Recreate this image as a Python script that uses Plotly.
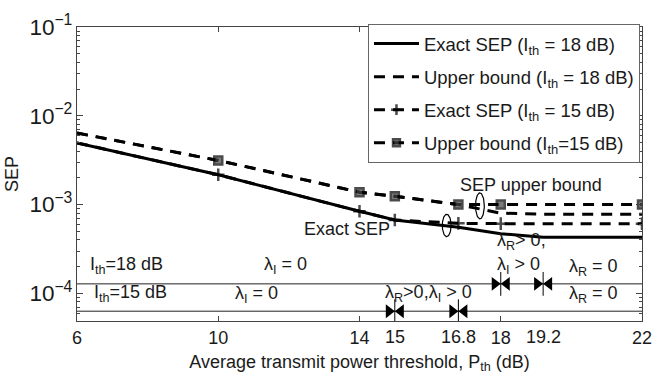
import numpy as np
import plotly.graph_objects as go

# ---------------- data ----------------
x_ex18 = [6, 10, 14, 15, 16.8, 18, 19.2, 22]
sep_ex18 = [4.95e-3, 2.17e-3, 8.4e-4, 6.7e-4, 5.56e-4, 4.7e-4, 4.3e-4, 4.3e-4]

x_ub18 = [6, 10, 14, 15, 16.8, 18, 19.2, 22]
sep_ub18 = [6.4e-3, 3.14e-3, 1.38e-3, 1.24e-3, 1.0e-3, 8.0e-4, 7.8e-4, 7.8e-4]

x_15 = [6, 10, 14, 15, 16.8, 18, 22]
sep_ex15 = [4.95e-3, 2.17e-3, 8.4e-4, 6.7e-4, 6.15e-4, 6.1e-4, 6.1e-4]
sep_ub15 = [6.4e-3, 3.14e-3, 1.38e-3, 1.24e-3, 1.0e-3, 1.0e-3, 1.0e-3]

legend_names = [
    "Exact SEP (I<sub>th</sub> = 18 dB)",
    "Upper bound (I<sub>th</sub> = 18 dB)",
    "Exact SEP (I<sub>th</sub> = 15 dB)",
    "Upper bound (I<sub>th</sub>=15 dB)",
]

# regime bars
ith_levels = [1.28e-4, 6.3e-5]          # Ith=18, Ith=15 reference lines
bound_x18 = [18, 19.2]
bound_x15 = [15, 16.8]

major_ticks = [6, 10, 14, 18, 22]
extra_ticks = [15, 16.8, 19.2]

# text labels: (text, x, SEP value, anchor)
labels = [
    ("Exact SEP", 13.64, 5.3e-4, "center"),
    ("SEP upper bound", 18.85, 1.66e-3, "center"),
    ("I<sub>th</sub>=18 dB", 6.3, 2.05e-4, "left"),
    ("I<sub>th</sub>=15 dB", 6.42, 1.0e-4, "left"),
    ("λ<sub>I</sub> = 0", 11.9, 2.05e-4, "center"),
    ("λ<sub>I</sub> = 0", 11.08, 9.6e-5, "center"),
    ("λ<sub>R</sub>>0,λ<sub>I</sub> > 0", 15.95, 1.0e-4, "center"),
    ("λ<sub>R</sub>> 0,", 18.6, 3.8e-4, "center"),
    ("λ<sub>I</sub> > 0", 18.5, 2.05e-4, "center"),
    ("λ<sub>R</sub> = 0", 20.62, 1.95e-4, "center"),
    ("λ<sub>R</sub> = 0", 20.62, 9.6e-5, "center"),
]

# ellipses: (center x, center SEP, half width in x units, half height in decades)
ellipses = [(16.47, 5.82e-4, 0.125, 0.126), (17.41, 9.68e-4, 0.124, 0.146)]

FONT = "Liberation Sans, Arial, Helvetica, sans-serif"
DASH = "11px,8px"
TXT = "#1a1a1a"

fig = go.Figure()

fig.add_trace(go.Scatter(x=x_ex18, y=sep_ex18, mode="lines", name=legend_names[0],
                         line=dict(color="black", width=3), legendgroup="a"))
fig.add_trace(go.Scatter(x=x_ub18, y=sep_ub18, mode="lines", name=legend_names[1],
                         line=dict(color="black", width=3, dash=DASH), legendgroup="b"))
sizes = [0] + [9] * (len(x_15) - 1)
fig.add_trace(go.Scatter(x=x_15, y=sep_ex15, mode="lines+markers", name=legend_names[2],
                         line=dict(color="black", width=3, dash=DASH),
                         marker=dict(symbol="cross-thin-open", size=sizes,
                                     line=dict(color="black", width=2.5)),
                         legendgroup="c"))
sizes_sq = [0] + [8] * (len(x_15) - 1)
fig.add_trace(go.Scatter(x=x_15, y=sep_ub15, mode="lines+markers", name=legend_names[3],
                         line=dict(color="black", width=3, dash=DASH),
                         marker=dict(symbol="square", size=sizes_sq, color="#444",
                                     line=dict(color="black", width=2.5)),
                         legendgroup="d"))

# regime reference lines
for lvl in ith_levels:
    fig.add_trace(go.Scatter(x=[6, 22], y=[lvl, lvl], mode="lines", showlegend=False,
                             line=dict(color="#222", width=1), hoverinfo="skip"))

# double-arrow boundary markers
delta = 0.17
for xs, lvl in ((bound_x18, ith_levels[0]), (bound_x15, ith_levels[1])):
    for xb in xs:
        fig.add_trace(go.Scatter(x=[xb - delta], y=[lvl], mode="markers", showlegend=False,
                                 marker=dict(symbol="triangle-right", size=12, color="black"),
                                 hoverinfo="skip"))
        fig.add_trace(go.Scatter(x=[xb + delta], y=[lvl], mode="markers", showlegend=False,
                                 marker=dict(symbol="triangle-left", size=12, color="black"),
                                 hoverinfo="skip"))
        fig.add_trace(go.Scatter(x=[xb], y=[lvl], mode="markers", showlegend=False,
                                 marker=dict(symbol="line-ns", size=17,
                                             line=dict(color="black", width=1)),
                                 hoverinfo="skip"))

# ellipses
t = np.linspace(0, 2 * np.pi, 80)
for cx, cy, rx, ry in ellipses:
    fig.add_trace(go.Scatter(x=cx + rx * np.cos(t), y=10 ** (np.log10(cy) + ry * np.sin(t)),
                             mode="lines", showlegend=False,
                             line=dict(color="black", width=1.2), hoverinfo="skip"))

for txt, x, y, anc in labels:
    fig.add_annotation(x=x, y=np.log10(y), text=txt, showarrow=False, xanchor=anc,
                       yanchor="middle", font=dict(size=18, color=TXT, family=FONT))

for xt in extra_ticks:
    fig.add_annotation(x=xt, y=0, yref="paper", yshift=-4, text=str(xt), showarrow=False,
                       xanchor="center", yanchor="top",
                       font=dict(size=18, color=TXT, family=FONT))

fig.update_xaxes(range=[6, 22], tickvals=major_ticks, ticktext=[str(v) for v in major_ticks],
                 ticks="inside", ticklen=5, tickcolor="#444", mirror="ticks",
                 showline=True, linecolor="#444", linewidth=1, showgrid=False, zeroline=False,
                 tickfont=dict(size=18, color=TXT, family=FONT),
                 title=dict(text="Average transmit power threshold, P<sub>th</sub> (dB)",
                            font=dict(size=18, color=TXT, family=FONT), standoff=8))
fig.update_yaxes(type="log", range=[-4.311, -1], dtick=1, exponentformat="power",
                 ticks="inside", ticklen=6, tickcolor="#444", mirror="ticks",
                 showline=True, linecolor="#444", linewidth=1, showgrid=False,
                 minor=dict(ticks="inside", ticklen=3, tickcolor="#444", showgrid=False),
                 tickfont=dict(size=18, color=TXT, family=FONT),
                 title=dict(text="SEP", font=dict(size=18, color=TXT, family=FONT), standoff=6))

fig.update_layout(
    width=663, height=381,
    margin=dict(l=73, r=11, t=19, b=60),
    plot_bgcolor="white", paper_bgcolor="white",
    font=dict(family=FONT, size=18, color=TXT),
    legend=dict(x=0.515, y=1.01, xanchor="left", yanchor="top",
                bgcolor="white", bordercolor="#666", borderwidth=1,
                font=dict(size=18.5, family=FONT, color=TXT),
                itemwidth=45,
                tracegroupgap=6, traceorder="grouped"),
    showlegend=True,
)

fig.write_html("out.html")
